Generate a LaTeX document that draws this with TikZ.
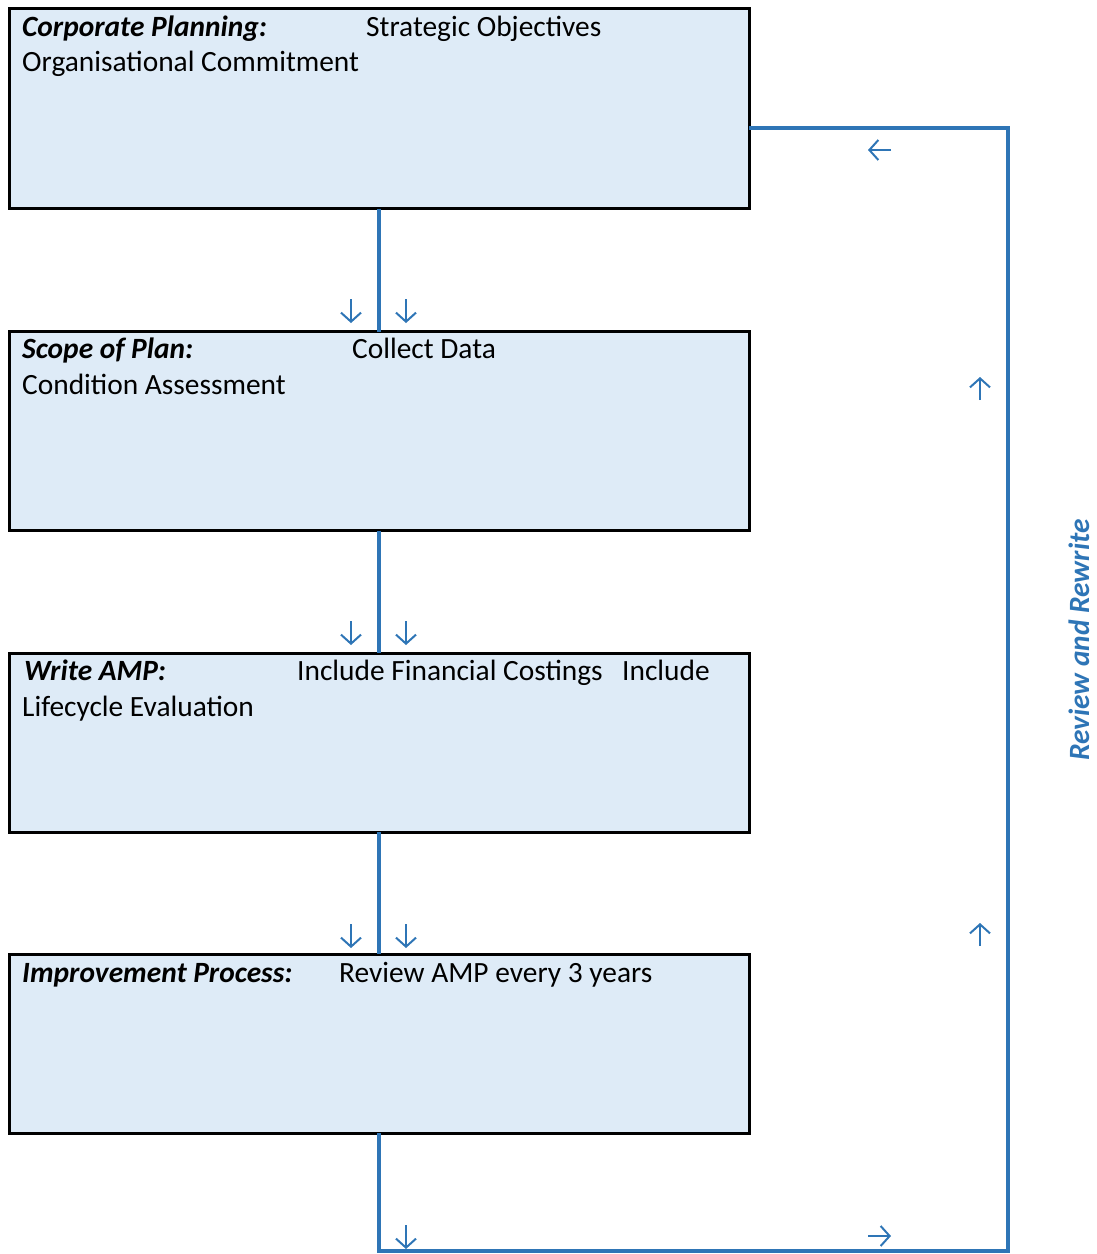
\documentclass[tikz,border=0pt]{standalone}
\usepackage{fontspec}
\setmainfont{Carlito}
\usetikzlibrary{arrows.meta}
\definecolor{boxfill}{HTML}{DEEBF7}
\definecolor{lineblue}{HTML}{2E75B6}
\begin{document}
\begin{tikzpicture}[x=1pt,y=-1pt,
  box/.style={draw=black,line width=3pt,fill=boxfill,rectangle,inner sep=0pt,outer sep=0pt,minimum width=740pt},
  txt/.style={font=\fontsize{29.4}{35}\selectfont,anchor=base west,inner sep=0pt,text=black},
  conn/.style={draw=lineblue,line width=3.5pt},
  garrow/.style={draw=lineblue,line width=2pt,-{Straight Barb[length=9pt,width=20pt,line width=2pt]}}]
\useasboundingbox (0,0) rectangle (1096,1254);
% boxes
\node[box,minimum height=200pt] (b1) at (379,108.5) {};
\node[box,minimum height=199pt] (b2) at (379,431) {};
\node[box,minimum height=179pt] (b3) at (379,742.5) {};
\node[box,minimum height=179pt] (b4) at (379,1043.5) {};
% texts
\node[txt] (t1a) at (22,36) {\textbf{\textit{Corporate Planning:}}};
\node[txt] (t1b) at (366,36) {Strategic Objectives};
\node[txt] (t1c) at (22,71) {Organisational Commitment};
\node[txt] (t2a) at (22,358) {\textbf{\textit{Scope of Plan:}}};
\node[txt] (t2b) at (352,358) {Collect Data};
\node[txt] (t2c) at (22,394) {Condition Assessment};
\node[txt] (t3a) at (24,680) {\textbf{\textit{Write AMP:}}};
\node[txt] (t3b) at (297,680) {Include Financial Costings};
\node[txt] (t3d) at (622,680) {Include};
\node[txt] (t3c) at (22,716) {Lifecycle Evaluation};
\node[txt] (t4a) at (22,982) {\textbf{\textit{Improvement Process:}}};
\node[txt] (t4b) at (339,982) {Review AMP every 3 years};
\node[font=\fontsize{29.4}{35}\selectfont\bfseries\itshape,text=lineblue,rotate=90,anchor=base,inner sep=0pt] (rr) at (1089,640) {Review and Rewrite};
% connectors
\coordinate (bl) at (379,1251);
\coordinate (br) at (1008,1251);
\coordinate (tr) at (1008,128);
\draw[conn] (b1.south) -- (b2.north);
\draw[conn] (b2.south) -- (b3.north);
\draw[conn] (b3.south) -- (b4.north);
\draw[conn,line join=miter] (b4.south) -- (bl) -- (br) -- (tr) -- (tr -| b1.east);
% direction marks
\foreach \y in {299,621,924}{
  \draw[garrow] (351,\y) -- (351,\y+24);
  \draw[garrow] (406,\y) -- (406,\y+24);
}
\draw[garrow] (406,1225) -- (406,1249);
\draw[garrow] (868,1236) -- (891,1236);
\draw[garrow] (891,150) -- (868,150);
\draw[garrow] (980,400) -- (980,377);
\draw[garrow] (980,946) -- (980,923);
\end{tikzpicture}
\end{document}
